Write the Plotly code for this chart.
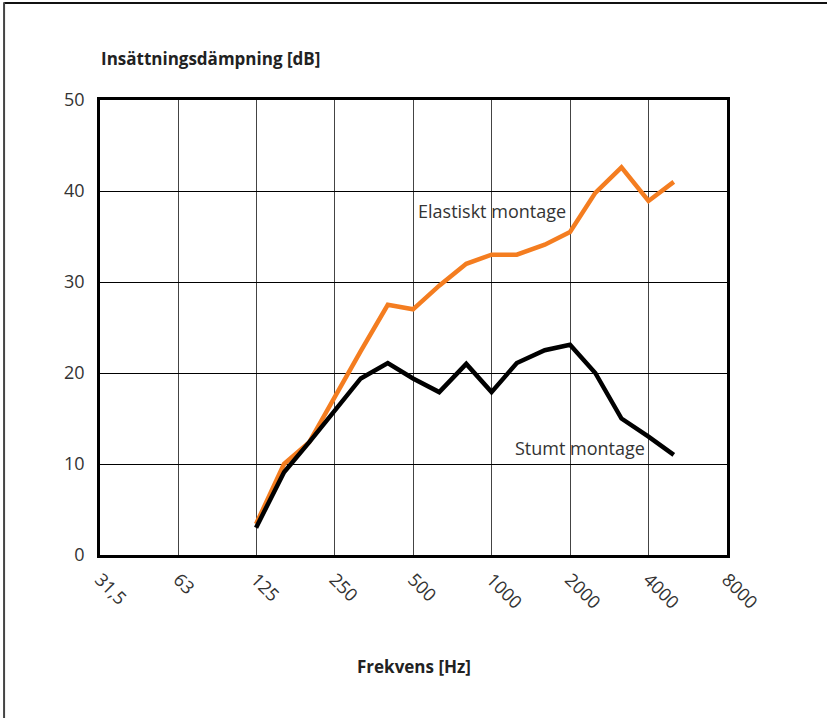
import plotly.graph_objects as go

freq = [125, 160, 200, 250, 315, 400, 500, 630, 800, 1000, 1250, 1600, 2000, 2500, 3150, 4000, 5000]
elastiskt = [3.4, 10.0, 12.4, 17.4, 22.4, 27.5, 27.0, 29.6, 32.0, 33.0, 33.0, 34.1, 35.5, 39.8, 42.6, 38.9, 41.0]
stumt = [3.0, 9.1, 12.4, 15.8, 19.4, 21.1, 19.4, 17.9, 21.0, 17.9, 21.1, 22.5, 23.1, 20.0, 15.0, 13.0, 11.0]

x_tickvals = [31.5, 63, 125, 250, 500, 1000, 2000, 4000, 8000]
x_ticktext = ["31,5", "63", "125", "250", "500", "1000", "2000", "4000", "8000"]
y_tickvals = [0, 10, 20, 30, 40, 50]

ORANGE = "#F47D20"
FONT = "Open Sans"

fig = go.Figure()
fig.add_trace(go.Scatter(x=freq, y=elastiskt, mode="lines",
                         line=dict(color=ORANGE, width=4.5), showlegend=False))
fig.add_trace(go.Scatter(x=freq, y=stumt, mode="lines",
                         line=dict(color="#000000", width=4.5), showlegend=False))

fig.update_layout(
    width=827, height=718,
    margin=dict(l=100, r=100, t=100, b=163),
    paper_bgcolor="white", plot_bgcolor="white",
    font=dict(family=FONT, size=18, color="#333333"),
    xaxis=dict(type="log", range=[1.4983, 3.9031],
               tickvals=x_tickvals, ticktext=x_ticktext, tickangle=45,
               showgrid=True, gridcolor="#444444", gridwidth=1,
               showline=True, linecolor="#000000", linewidth=3, mirror=True,
               ticks="outside", ticklen=4, tickcolor="rgba(0,0,0,0)",
               zeroline=False, tickfont=dict(size=18, color="#333333")),
    yaxis=dict(range=[0, 50], tickvals=y_tickvals,
               showgrid=True, gridcolor="#000000", gridwidth=1,
               showline=True, linecolor="#000000", linewidth=2.5, mirror=True,
               ticks="outside", ticklen=9, tickcolor="rgba(0,0,0,0)",
               zeroline=False, tickfont=dict(size=18, color="#333333")),
    annotations=[
        dict(text="<b>Insättningsdämpning [dB]</b>", xref="paper", yref="paper",
             x=-0.002, y=1.092, xanchor="left", yanchor="middle", showarrow=False,
             font=dict(family=FONT, size=17, color="#222222")),
        dict(text="<b>Frekvens [Hz]</b>", xref="paper", yref="paper",
             x=0.5, y=-0.244, xanchor="center", yanchor="middle", showarrow=False,
             font=dict(family=FONT, size=17, color="#222222")),
        dict(text="Elastiskt montage", xref="paper", yref="paper",
             x=0.504, y=0.756, xanchor="left", yanchor="middle", showarrow=False,
             font=dict(family=FONT, size=18, color="#333333")),
        dict(text="Stumt montage", xref="paper", yref="paper",
             x=0.658, y=0.235, xanchor="left", yanchor="middle", showarrow=False,
             font=dict(family=FONT, size=18, color="#333333")),
    ],
    shapes=[
        dict(type="line", xref="paper", yref="paper", x0=-0.153, x1=1.2, y0=1.213, y1=1.213,
             line=dict(color="#111111", width=2)),
        dict(type="line", xref="paper", yref="paper", x0=-0.153, x1=-0.153, y0=1.215, y1=-0.36,
             line=dict(color="#444444", width=2)),
    ],
)

fig.write_html("out.html", config={"displayModeBar": False},
               post_script="document.body.style.margin='0';document.body.style.padding='0';")
